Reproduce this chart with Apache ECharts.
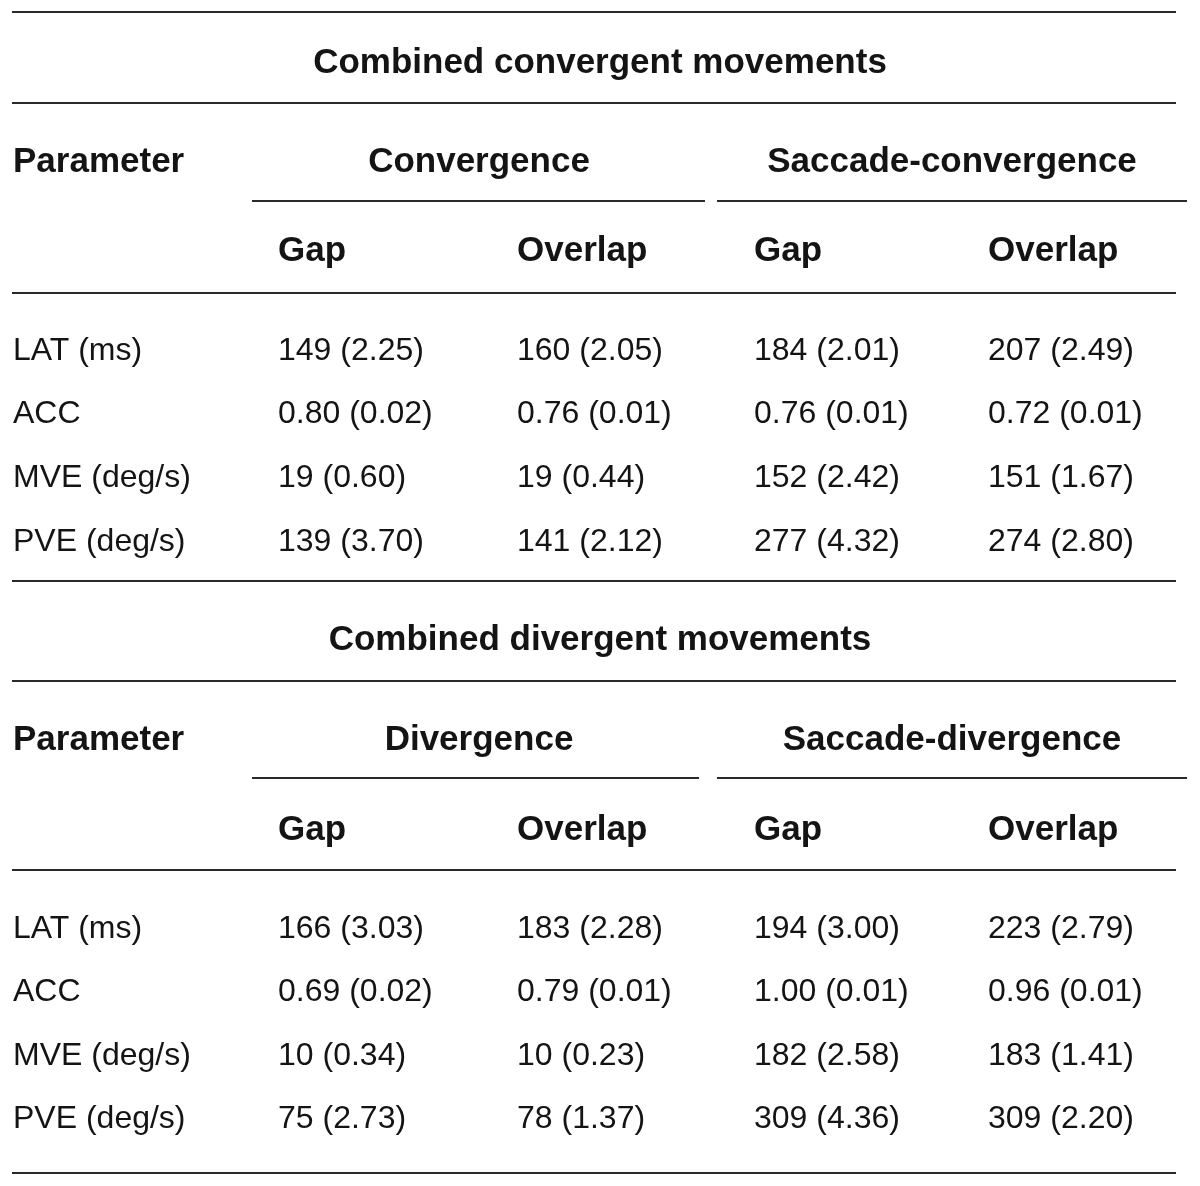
<!DOCTYPE html>
<html>
<head>
<meta charset="utf-8">
<script src="https://cdn.jsdelivr.net/npm/echarts@6/dist/echarts.min.js"></script>
<style>
  html, body { margin: 0; padding: 0; background: #fff; }
  #main { width: 1200px; height: 1186px; }
</style>
</head>
<body>
<div id="main"></div>
<script>
// table text
const sectionTitles = ['Combined convergent movements', 'Combined divergent movements'];
const groupsConv = ['Convergence', 'Saccade-convergence'];
const groupsDiv = ['Divergence', 'Saccade-divergence'];
const conditions = ['Gap', 'Overlap'];
const parameters = ['LAT (ms)', 'ACC', 'MVE (deg/s)', 'PVE (deg/s)'];
const decimals = [0, 2, 0, 0];

// mean (SE), rows: LAT, ACC, MVE, PVE
const convGapMean = [149, 0.80, 19, 139];
const convGapSE = [2.25, 0.02, 0.60, 3.70];
const convOverlapMean = [160, 0.76, 19, 141];
const convOverlapSE = [2.05, 0.01, 0.44, 2.12];
const saccConvGapMean = [184, 0.76, 152, 277];
const saccConvGapSE = [2.01, 0.01, 2.42, 4.32];
const saccConvOverlapMean = [207, 0.72, 151, 274];
const saccConvOverlapSE = [2.49, 0.01, 1.67, 2.80];

const divGapMean = [166, 0.69, 10, 75];
const divGapSE = [3.03, 0.02, 0.34, 2.73];
const divOverlapMean = [183, 0.79, 10, 78];
const divOverlapSE = [2.28, 0.01, 0.23, 1.37];
const saccDivGapMean = [194, 1.00, 182, 309];
const saccDivGapSE = [3.00, 0.01, 2.58, 4.36];
const saccDivOverlapMean = [223, 0.96, 183, 309];
const saccDivOverlapSE = [2.79, 0.01, 1.41, 2.20];

const chart = echarts.init(document.getElementById('main'));

const FONT = '"Liberation Sans", Arial, sans-serif';
const LINE = '#2a2a2a';
const colX = [13, 278, 517, 754, 988];
const groupCenter = [479, 952];

function cell(x, y, text, bold, align) {
  return {
    type: 'text',
    x: x,
    y: y + 2,
    style: {
      text: text,
      fill: '#141414',
      fontFamily: FONT,
      fontSize: bold ? 35 : 32,
      fontWeight: bold ? 'bold' : 'normal',
      textAlign: align || 'left',
      textVerticalAlign: 'middle'
    }
  };
}

function hline(x1, x2, y) {
  return {
    type: 'line',
    shape: { x1: x1, y1: y, x2: x2, y2: y },
    style: { stroke: LINE, lineWidth: 2 }
  };
}

function fmt(mean, se, d) {
  return mean.toFixed(d) + ' (' + se.toFixed(2) + ')';
}

// one table block
function section(title, groups, cols, lay) {
  const els = [];
  els.push(hline(12, 1176, lay.top));
  els.push(cell(600, lay.titleY, title, true, 'center'));
  els.push(hline(12, 1176, lay.line1));
  els.push(cell(colX[0], lay.paramY, 'Parameter', true));
  groups.forEach((g, i) => els.push(cell(groupCenter[i], lay.paramY, g, true, 'center')));
  els.push(hline(252, lay.subEnd, lay.sub));
  els.push(hline(717, 1187, lay.sub));
  for (let c = 0; c < 4; c++) {
    els.push(cell(colX[c + 1], lay.condY, conditions[c % 2], true));
  }
  els.push(hline(12, 1176, lay.line2));
  parameters.forEach((p, r) => {
    const y = lay.rowY[r];
    els.push(cell(colX[0], y, p, false));
    cols.forEach((col, c) => {
      els.push(cell(colX[c + 1], y, fmt(col[0][r], col[1][r], decimals[r]), false));
    });
  });
  return els;
}

const graphics = []
  .concat(section(sectionTitles[0], groupsConv, [
    [convGapMean, convGapSE], [convOverlapMean, convOverlapSE],
    [saccConvGapMean, saccConvGapSE], [saccConvOverlapMean, saccConvOverlapSE]
  ], {
    top: 12, titleY: 61, line1: 103, paramY: 160, sub: 201, subEnd: 705,
    condY: 249, line2: 293, rowY: [349, 412, 476, 540]
  }))
  .concat(section(sectionTitles[1], groupsDiv, [
    [divGapMean, divGapSE], [divOverlapMean, divOverlapSE],
    [saccDivGapMean, saccDivGapSE], [saccDivOverlapMean, saccDivOverlapSE]
  ], {
    top: 581, titleY: 638, line1: 681, paramY: 738, sub: 778, subEnd: 699,
    condY: 828, line2: 870, rowY: [927, 990, 1054, 1117]
  }));
graphics.push(hline(12, 1176, 1173));

chart.setOption({
  backgroundColor: '#fff',
  animation: false,
  graphic: graphics
});
</script>
</body>
</html>
